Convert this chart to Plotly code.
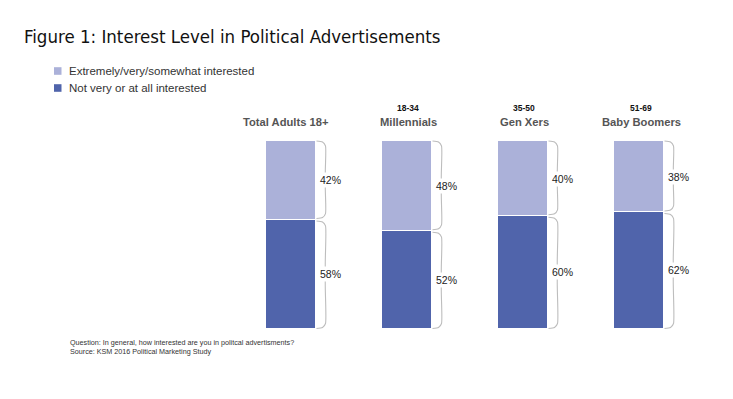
import plotly.graph_objects as go

# ---- data ----
groups = ["Total Adults 18+", "Millennials", "Gen Xers", "Baby Boomers"]
age_ranges = ["", "18-34", "35-50", "51-69"]
interested = [42, 48, 40, 38]          # Extremely/very/somewhat interested
not_interested = [58, 52, 60, 62]      # Not very or at all interested
series_names = ["Extremely/very/somewhat interested", "Not very or at all interested"]

LIGHT = "#abb1d9"
DARK = "#5064ab"
BRACE = "#bdbdbd"

W, H = 733, 399
OFF = 8  # page body margin

def PX(p):
    return (p - OFF) / W

def PY(p):
    return 1 - (p - OFF) / H

xs = list(range(len(groups)))
px_per_x = 116.0
x0_px = 290.5 - OFF
y0_px, y100_px = 328.5 - OFF, 141.0 - OFF
px_per_y = (y0_px - y100_px) / 100.0
xrange = [-x0_px / px_per_x, (W - x0_px) / px_per_x]
yrange = [-(H - y0_px) / px_per_y, 100 + y100_px / px_per_y]

bar_w = 50 / px_per_x

fig = go.Figure()
fig.add_trace(go.Bar(x=xs, y=not_interested, name=series_names[1], marker=dict(color=DARK, line=dict(color="white", width=1)),
                     width=bar_w, showlegend=False, hoverinfo="skip"))
fig.add_trace(go.Bar(x=xs, y=interested, name=series_names[0], marker=dict(color=LIGHT, line=dict(color="white", width=1)),
                     width=bar_w, showlegend=False, hoverinfo="skip"))

# braces and labels
dxp = lambda p: p / px_per_x
dyp = lambda p: p / px_per_y
annotations = []
for i in xs:
    xr = i + bar_w / 2
    segs = [(0, not_interested[i]), (not_interested[i], 100)]
    for (a, b) in segs:
        lo, hi = a + dyp(1.2), b - dyp(1.2)
        if a == 0:
            lo = a
        if b == 100:
            hi = b
        mid = (a + b) / 2
        bx = xr + dxp(10)
        px = [xr + dxp(1), xr + dxp(7), bx, bx, bx + dxp(2), bx, bx, xr + dxp(7), xr + dxp(1)]
        py = [hi, hi - dyp(1), hi - dyp(5), mid + dyp(3), mid, mid - dyp(3), lo + dyp(5), lo + dyp(1), lo]
        fig.add_trace(go.Scatter(x=px, y=py, mode="lines", line=dict(color=BRACE, width=1.1, shape="spline", smoothing=0.6),
                                 showlegend=False, hoverinfo="skip"))
        annotations.append(dict(x=xr + dxp(15), y=mid, xref="x", yref="y", text=f"{b - a}%", showarrow=False,
                                font=dict(family="Arial, Liberation Sans", size=10.5, color="#222"),
                                bgcolor="white", borderpad=1, xanchor="center", yanchor="middle"))

# column headers
shifts = [-5, 2, 2, 3]
for i in xs:
    annotations.append(dict(x=i, y=PY(122), xref="x", yref="paper", xshift=shifts[i], text=f"<b>{groups[i]}</b>",
                            showarrow=False, font=dict(family="Arial, Liberation Sans", size=11.2, color="#555"),
                            xanchor="center", yanchor="middle"))
    if age_ranges[i]:
        annotations.append(dict(x=i, y=PY(108), xref="x", yref="paper", xshift=shifts[i] - 1, text=f"<b>{age_ranges[i]}</b>",
                                showarrow=False, font=dict(family="Arial, Liberation Sans", size=8.5, color="#111"),
                                xanchor="center", yanchor="middle"))

# title
annotations.append(dict(x=PX(22), y=PY(37), xref="paper", yref="paper", text="Figure 1: Interest Level in Political Advertisements",
                        showarrow=False, font=dict(family="DejaVu Sans Condensed, Liberation Sans Narrow, Arial Narrow, Arial", size=18.5, color="#111"),
                        xanchor="left", yanchor="middle"))

# legend (manual)
shapes = []
for k, (name, col, yc) in enumerate([(series_names[0], LIGHT, 71), (series_names[1], DARK, 88)]):
    shapes.append(dict(type="rect", xref="paper", yref="paper", x0=PX(54), x1=PX(61.5), y0=PY(yc + 3.8), y1=PY(yc - 3.8),
                       fillcolor=col, line=dict(width=0)))
    annotations.append(dict(x=PX(67), y=PY(yc), xref="paper", yref="paper", text=name, showarrow=False,
                            font=dict(family="Arial, Liberation Sans", size=11.5, color="#333"), xanchor="left", yanchor="middle"))

# footnotes
annotations.append(dict(x=PX(68), y=PY(342), xref="paper", yref="paper",
                        text="Question: In general, how interested are you in politcal advertisments?", showarrow=False,
                        font=dict(family="Arial, Liberation Sans", size=7.2, color="#333"), xanchor="left", yanchor="middle"))
annotations.append(dict(x=PX(68), y=PY(351), xref="paper", yref="paper",
                        text="Source: KSM 2016 Political Marketing Study", showarrow=False,
                        font=dict(family="Arial, Liberation Sans", size=7.2, color="#333"), xanchor="left", yanchor="middle"))

fig.update_layout(
    width=W, height=H, barmode="stack", bargap=0,
    margin=dict(l=0, r=0, t=0, b=0),
    paper_bgcolor="white", plot_bgcolor="white",
    xaxis=dict(range=xrange, visible=False, fixedrange=True),
    yaxis=dict(range=yrange, visible=False, fixedrange=True),
    annotations=annotations, shapes=shapes,
)
fig.write_html("out.html")
